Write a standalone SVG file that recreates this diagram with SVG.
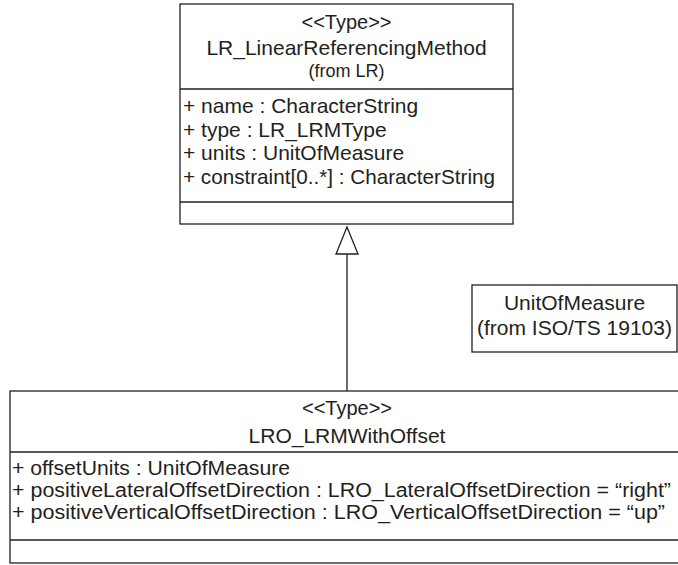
<svg xmlns="http://www.w3.org/2000/svg" width="678" height="565" viewBox="0 0 678 565">
<style>
.box{fill:#ffffff;stroke:#231f20;stroke-width:1.3}
.ln{stroke:#231f20;stroke-width:1.3;fill:none}
text{font-family:"Liberation Sans",Arial,sans-serif;fill:#231f20}
.t{font-size:21px}
.r{font-size:19.5px}
.h{font-size:20px}
.s{font-size:18px}
.c{text-anchor:middle}
</style>
<rect width="678" height="565" fill="#ffffff"/>
<g id="connectors">
<line class="ln" x1="347" y1="254" x2="347" y2="391"/>
<polygon points="347,227 336,254 358,254" fill="#ffffff" stroke="#231f20" stroke-width="1.3"/>
</g>
<g id="LR_LinearReferencingMethod">
<rect class="box" x="180" y="4" width="333" height="220"/>
<line class="ln" x1="180" y1="89" x2="513" y2="89"/>
<line class="ln" x1="180" y1="202" x2="513" y2="202"/>
<text class="h c" x="346.5" y="29">&lt;&lt;Type&gt;&gt;</text>
<text class="t c" x="346.5" y="55">LR_LinearReferencingMethod</text>
<text class="s c" x="346.5" y="77">(from LR)</text>
<text class="t" x="183" y="113">+ name : CharacterString</text>
<text class="t" x="183" y="137">+ type : LR_LRMType</text>
<text class="t" x="183" y="160">+ units : UnitOfMeasure</text>
<text class="t" x="183" y="184" textLength="312" lengthAdjust="spacingAndGlyphs">+ constraint[0..*] : CharacterString</text>
</g>
<g id="UnitOfMeasure">
<rect class="box" x="472" y="285" width="205" height="67"/>
<text class="t c" x="574.5" y="310">UnitOfMeasure</text>
<text class="t c" x="574.5" y="335">(from ISO/TS 19103)</text>
</g>
<g id="LRO_LRMWithOffset">
<rect class="box" x="10" y="391" width="690" height="172"/>
<line class="ln" x1="10" y1="452" x2="678" y2="452"/>
<line class="ln" x1="10" y1="540" x2="678" y2="540"/>
<text class="h c" x="347" y="415">&lt;&lt;Type&gt;&gt;</text>
<text class="t c" x="347" y="443">LRO_LRMWithOffset</text>
<text class="r" x="12" y="475" textLength="278" lengthAdjust="spacingAndGlyphs">+ offsetUnits : UnitOfMeasure</text>
<text class="r" x="12" y="497" textLength="659" lengthAdjust="spacingAndGlyphs">+ positiveLateralOffsetDirection : LRO_LateralOffsetDirection = “right”</text>
<text class="r" x="12" y="519" textLength="653" lengthAdjust="spacingAndGlyphs">+ positiveVerticalOffsetDirection : LRO_VerticalOffsetDirection = “up”</text>
</g>
</svg>
